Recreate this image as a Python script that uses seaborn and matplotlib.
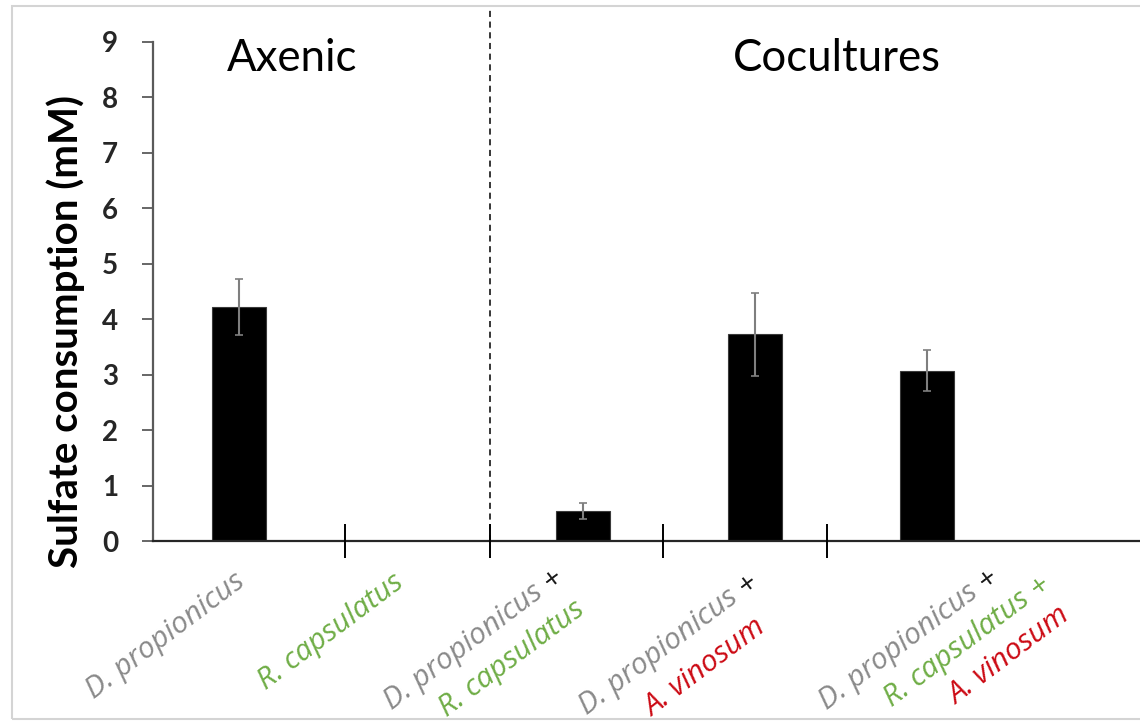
import matplotlib
matplotlib.use("Agg")
import numpy as np
import pandas as pd
import matplotlib.pyplot as plt
import seaborn as sns
from matplotlib.patches import Rectangle
from matplotlib.font_manager import FontProperties

# ---- data -------------------------------------------------------------
categories = [
    "D. propionicus",
    "R. capsulatus",
    "D. propionicus + R. capsulatus",
    "D. propionicus + A. vinosum",
    "D. propionicus + R. capsulatus + A. vinosum",
]
consumption = [4.22, 0.0, 0.54, 3.73, 3.07]
consumption_sd = [0.51, 0.0, 0.15, 0.75, 0.37]
y_ticks = [0, 1, 2, 3, 4, 5, 6, 7, 8, 9]
group_titles = ["Axenic", "Cocultures"]
y_title = "Sulfate consumption (mM)"

GRAY = "#8a8a8a"
GREEN = "#6fad46"
RED = "#cc0a14"
BLACK = "#1a1a1a"

# tick label of each culture: lines, each made of (text, colour) pieces
tick_label_lines = [
    [[("D. propionicus", GRAY)]],
    [[("R. capsulatus", GREEN)]],
    [[("D. propionicus", GRAY), ("+", BLACK)], [("R. capsulatus", GREEN)]],
    [[("D. propionicus", GRAY), ("+", BLACK)], [("A. vinosum", RED)]],
    [[("D. propionicus", GRAY), ("+", BLACK)],
     [("R. capsulatus", GREEN), ("+", GREEN)],
     [("A. vinosum", RED)]],
]

# ---- layout -----------------------------------------------------------
W, H = 1140, 721
AX_LEFT, AX_RIGHT, AX_TOP, AX_BOTTOM = 153, 1140, 42, 541
LABEL_ANGLE = 37
LABEL_SIZE = 21.5
# baseline start of every label line, pixels from (category, axis) point
line_starts = [
    [(-145, 158)],
    [(-145, 149)],
    [(-191, 169), (-136, 176)],
    [(-168, 174), (-102, 176)],
    [(-100, 169), (-35, 166), (30, 164)],
]
separator_x = [0.616, 1.459, 2.465, 3.419]
group_divider_x = 1.459

sns.set_style("white")
plt.rcParams["font.family"] = ["Lato", "DejaVu Sans"]

fig = plt.figure(figsize=(W / 100, H / 100), dpi=100)
ax = fig.add_axes([AX_LEFT / W, 1 - AX_BOTTOM / H,
                   (AX_RIGHT - AX_LEFT) / W, (AX_BOTTOM - AX_TOP) / H])

df = pd.DataFrame({"culture": categories, "consumption": consumption})
sns.barplot(data=df, x="culture", y="consumption", color="black",
            saturation=1, width=0.314, errorbar=None, ax=ax,
            edgecolor="#3a3a3a", linewidth=0.8)

xs = np.arange(len(categories))
has_err = np.array(consumption_sd) > 0
ax.errorbar(xs[has_err], np.array(consumption)[has_err],
            yerr=np.array(consumption_sd)[has_err], fmt="none",
            ecolor="#7f7f7f", elinewidth=1.5, capsize=3, capthick=1.2,
            zorder=5)

ax.set_xlim(-0.5, 5.24)
ax.set_ylim(0, 9)
ax.set_yticks(y_ticks)
ax.set_xticks([])
ax.set_xlabel("")
ax.set_ylabel("")

for side in ("top", "right"):
    ax.spines[side].set_visible(False)
ax.spines["left"].set_color("#5a5a5a")
ax.spines["left"].set_linewidth(1.6)
ax.spines["bottom"].set_color("#262626")
ax.spines["bottom"].set_linewidth(1.6)
ax.tick_params(axis="y", direction="out", length=8, width=1.3,
               color="#5a5a5a", labelsize=20, pad=17, left=True)
for lbl in ax.get_yticklabels():
    lbl.set_fontweight("bold")

# y-axis title
fig.text(66 / W, 1 - 331 / H, y_title, rotation=90, ha="center",
         va="center", fontsize=29, fontweight="bold", color="black")

# separators under the category axis and the axenic/coculture divider
ax.vlines(separator_x, -0.31, 0.31, colors="black", linewidth=1.4,
          clip_on=False, zorder=6)
ax.plot([group_divider_x, group_divider_x], [0, 9.66], color="black",
        linewidth=1.1, linestyle=(0, (4, 3)), clip_on=False, zorder=4)

# group headings
fig.text(292 / W, 1 - 71 / H, group_titles[0], ha="center", va="baseline",
         fontsize=31.5, color="black")
fig.text(837 / W, 1 - 71 / H, group_titles[1], ha="center", va="baseline",
         fontsize=31.5, color="black")

# rotated multi-colour category labels
renderer = fig.canvas.get_renderer()
label_font = FontProperties(family=["Open Sans", "DejaVu Sans"],
                            style="italic", size=LABEL_SIZE)
theta = np.deg2rad(LABEL_ANGLE)
u = np.array([np.cos(theta), np.sin(theta)])
for i, lines in enumerate(tick_label_lines):
    for pieces, (sx, sy) in zip(lines, line_starts[i]):
        start = np.array([sx, -sy], dtype=float)
        first_text, first_color = pieces[0]
        ax.annotate(first_text, xy=(i, 0), xycoords="data",
                    xytext=tuple(start), textcoords="offset pixels",
                    rotation=LABEL_ANGLE, rotation_mode="anchor",
                    ha="left", va="baseline", color=first_color,
                    fontproperties=label_font, annotation_clip=False)
        text_so_far = first_text
        for extra_text, extra_color in pieces[1:]:
            text_so_far = text_so_far + " " + extra_text
            w, _, _ = renderer.get_text_width_height_descent(
                text_so_far, label_font, ismath=False)
            end = start + w * u
            ax.annotate(extra_text, xy=(i, 0), xycoords="data",
                        xytext=tuple(end), textcoords="offset pixels",
                        rotation=LABEL_ANGLE, rotation_mode="anchor",
                        ha="right", va="baseline", color=extra_color,
                        fontproperties=label_font, annotation_clip=False)

# light frame around the figure
fig.add_artist(Rectangle((12 / W, 1 - 719 / H), (W - 12 + 4) / W,
                         (719 - 6) / H, transform=fig.transFigure,
                         fill=False, edgecolor="#d4d4d4", linewidth=1.5))

fig.savefig("out.png", dpi=100)
